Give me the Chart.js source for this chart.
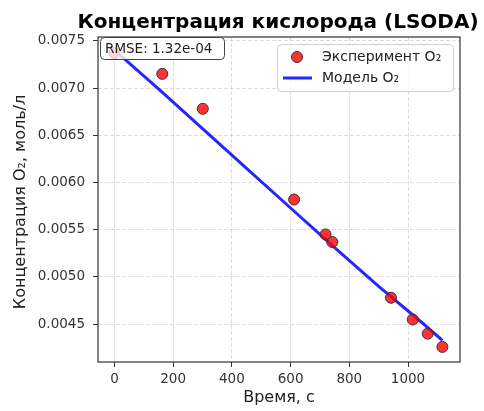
<!DOCTYPE html>
<html>
<head>
<meta charset="utf-8">
<script src="https://cdn.jsdelivr.net/npm/chart.js@4"></script>
<style>
  html, body { margin: 0; padding: 0; background: #fff; }
  #wrap { width: 484px; height: 411px; }
</style>
</head>
<body>
<div id="wrap"><canvas id="o2Chart" width="484" height="411"></canvas></div>
<script>
// experiment points (time in s, O2 concentration in mol/l)
const expTimes = [0, 163, 301, 612, 719, 742, 942, 1016, 1067, 1117];
const expO2 = [0.00737, 0.00715, 0.00678, 0.00582, 0.00545, 0.00537, 0.00478, 0.00455, 0.00440, 0.00426];

// model curve
const modelTimes = [0, 150, 300, 450, 600, 750, 900, 1050, 1117];
const modelO2 = [0.00740, 0.00699, 0.00657, 0.00615, 0.00573, 0.00531, 0.00490, 0.00451, 0.00433];

const xTicks = [0, 200, 400, 600, 800, 1000];
const yTicks = [0.0045, 0.0050, 0.0055, 0.0060, 0.0065, 0.0070, 0.0075];

const titleText = 'Концентрация кислорода (LSODA)';
const xLabel = 'Время, с';
const yLabel = 'Концентрация O₂, моль/л';
const rmseText = 'RMSE: 1.32e-04';
const legendLabels = ['Эксперимент O₂', 'Модель O₂'];

const FONT = "'DejaVu Sans', sans-serif";
const pointFill = 'rgba(255, 0, 0, 0.8)';
const pointEdge = '#333';
const lineColor = 'rgba(0, 0, 255, 0.85)';

function roundRect(ctx, x, y, w, h, r) {
    ctx.beginPath();
    ctx.moveTo(x + r, y);
    ctx.arcTo(x + w, y, x + w, y + h, r);
    ctx.arcTo(x + w, y + h, x, y + h, r);
    ctx.arcTo(x, y + h, x, y, r);
    ctx.arcTo(x, y, x + w, y, r);
    ctx.closePath();
}

const decorations = {
    id: 'decorations',
    afterDraw(chart) {
        const ctx = chart.ctx;
        const a = chart.chartArea;
        ctx.save();

        // frame
        ctx.strokeStyle = '#333';
        ctx.lineWidth = 1.2;
        ctx.setLineDash([]);
        ctx.strokeRect(a.left, a.top, a.right - a.left, a.bottom - a.top);

        // title
        ctx.fillStyle = '#000';
        ctx.font = 'bold 20px ' + FONT;
        ctx.textAlign = 'center';
        ctx.textBaseline = 'alphabetic';
        ctx.fillText(titleText, 278, 28);

        // axis titles
        ctx.fillStyle = '#222';
        ctx.font = '16px ' + FONT;
        ctx.textBaseline = 'middle';
        ctx.fillText(xLabel, (a.left + a.right) / 2, 398);
        ctx.save();
        ctx.translate(21, 202);
        ctx.rotate(-Math.PI / 2);
        ctx.fillText(yLabel, 0, 0);
        ctx.restore();

        // RMSE box
        roundRect(ctx, 100.5, 37.5, 124, 22, 4);
        ctx.fillStyle = 'rgba(255,255,255,0.8)';
        ctx.fill();
        ctx.strokeStyle = '#444';
        ctx.lineWidth = 1;
        ctx.stroke();
        ctx.fillStyle = '#222';
        ctx.font = '13.5px ' + FONT;
        ctx.textAlign = 'left';
        ctx.fillText(rmseText, 105, 49);

        // legend
        roundRect(ctx, 277.5, 44.5, 176, 47, 4);
        ctx.fillStyle = 'rgba(255,255,255,0.8)';
        ctx.fill();
        ctx.strokeStyle = '#d0d0d0';
        ctx.stroke();
        ctx.beginPath();
        ctx.arc(297, 57, 5.5, 0, Math.PI * 2);
        ctx.fillStyle = pointFill;
        ctx.fill();
        ctx.strokeStyle = pointEdge;
        ctx.lineWidth = 1;
        ctx.stroke();
        ctx.beginPath();
        ctx.moveTo(283, 78);
        ctx.lineTo(312, 78);
        ctx.strokeStyle = lineColor;
        ctx.lineWidth = 3;
        ctx.stroke();
        ctx.fillStyle = '#222';
        ctx.font = '14px ' + FONT;
        ctx.fillText(legendLabels[0], 322, 57);
        ctx.fillText(legendLabels[1], 322, 78);

        ctx.restore();
    }
};

document.addEventListener('DOMContentLoaded', function () {
    const ctx = document.getElementById('o2Chart').getContext('2d');

    new Chart(ctx, {
        type: 'scatter',
        data: {
            datasets: [{
                label: legendLabels[0],
                data: expTimes.map((t, i) => ({ x: t, y: expO2[i] })),
                backgroundColor: pointFill,
                borderColor: pointEdge,
                borderWidth: 1,
                pointRadius: 5.5,
                order: 0
            }, {
                label: legendLabels[1],
                type: 'line',
                data: modelTimes.map((t, i) => ({ x: t, y: modelO2[i] })),
                borderColor: lineColor,
                borderWidth: 3,
                pointRadius: 0,
                tension: 0,
                fill: false,
                order: 1
            }]
        },
        options: {
            responsive: false,
            animation: false,
            devicePixelRatio: 1,
            layout: { padding: { left: 0, top: 37, right: 24, bottom: 0 } },
            plugins: {
                legend: { display: false },
                title: { display: false },
                tooltip: { enabled: false }
            },
            scales: {
                x: {
                    type: 'linear',
                    min: -56,
                    max: 1177,
                    afterBuildTicks: s => { s.ticks = xTicks.map(v => ({ value: v })); },
                    afterFit: s => { s.height = 49; },
                    border: { display: false, dash: [4, 2] },
                    grid: {
                        color: 'rgba(0,0,0,0.13)',
                        tickColor: '#333',
                        tickLength: 5,
                        tickWidth: 1
                    },
                    ticks: {
                        color: '#333',
                        font: { family: FONT, size: 13.5 },
                        padding: 4,
                        maxRotation: 0,
                        callback: v => String(v)
                    }
                },
                y: {
                    min: 0.00410,
                    max: 0.00754,
                    afterBuildTicks: s => { s.ticks = yTicks.map(v => ({ value: v })); },
                    afterFit: s => { s.width = 98; },
                    border: { display: false, dash: [4, 2] },
                    grid: {
                        color: 'rgba(0,0,0,0.13)',
                        tickColor: '#333',
                        tickLength: 5,
                        tickWidth: 1
                    },
                    ticks: {
                        color: '#333',
                        font: { family: FONT, size: 13.5 },
                        padding: 8,
                        callback: v => Number(v).toFixed(4)
                    }
                }
            }
        },
        plugins: [decorations]
    });
});
</script>
</body>
</html>
